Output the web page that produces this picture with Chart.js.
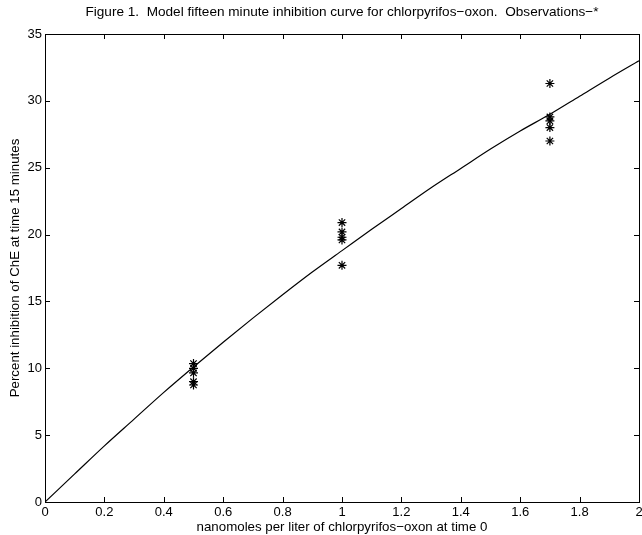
<!DOCTYPE html>
<html>
<head>
<meta charset="utf-8">
<title>Figure 1</title>
<script src="https://cdn.jsdelivr.net/npm/chart.js@4/dist/chart.umd.min.js"></script>
<style>
  html, body { margin: 0; padding: 0; background: #fff; }
  #wrap { width: 642px; height: 535px; }
</style>
</head>
<body>
<div id="wrap"><canvas id="fig" width="642" height="535"></canvas></div>
<script>
(function () {
  "use strict";

  // model curve
  var curveX = [0, 0.1, 0.2, 0.3, 0.4, 0.5, 0.6, 0.7, 0.8, 0.9, 1.0, 1.1, 1.2, 1.3, 1.4, 1.5, 1.6, 1.7, 1.8, 1.9, 2.0];
  var curveY = [0, 2.1, 4.2, 6.2, 8.2, 10.1, 11.95, 13.75, 15.5, 17.2, 18.8, 20.4, 21.95, 23.5, 24.95, 26.4, 27.75, 29.0, 30.35, 31.7, 33.0];

  // observations (*)
  var obsX = [0.5, 0.5, 0.5, 0.5, 0.5, 1, 1, 1, 1, 1, 1.7, 1.7, 1.7, 1.7, 1.7];
  var obsY = [10.35, 10.0, 9.65, 9.0, 8.75, 20.9, 20.2, 19.8, 19.6, 17.7, 31.3, 28.8, 28.5, 28.0, 27.0];

  var xTicks = [0, 0.2, 0.4, 0.6, 0.8, 1, 1.2, 1.4, 1.6, 1.8, 2];
  var yTicks = [0, 5, 10, 15, 20, 25, 30, 35];

  var titleText = "Figure 1.  Model fifteen minute inhibition curve for chlorpyrifos\u2212oxon.  Observations\u2212*";
  var xLabel = "nanomoles per liter of chlorpyrifos\u2212oxon at time 0";
  var yLabel = "Percent inhibition of ChE at time 15 minutes";

  function pairs(xs, ys) {
    return xs.map(function (x, i) { return { x: x, y: ys[i] }; });
  }

  var FONT = "'Liberation Sans', Arial, Helvetica, sans-serif";
  var SIZE = 13;

  // matlab style box with inward ticks on all four sides
  var boxTicks = {
    id: "boxTicks",
    afterDraw: function (chart) {
      var ctx = chart.ctx, a = chart.chartArea;
      var xs = chart.scales.x, ys = chart.scales.y, len = 5;
      ctx.save();
      ctx.strokeStyle = "#000";
      ctx.lineWidth = 1;
      ctx.beginPath();
      xTicks.forEach(function (v) {
        var p = Math.round(xs.getPixelForValue(v)) + 0.5;
        ctx.moveTo(p, a.bottom); ctx.lineTo(p, a.bottom - len);
        ctx.moveTo(p, a.top); ctx.lineTo(p, a.top + len);
      });
      yTicks.forEach(function (v) {
        var p = Math.round(ys.getPixelForValue(v)) + 0.5;
        ctx.moveTo(a.left, p); ctx.lineTo(a.left + len, p);
        ctx.moveTo(a.right, p); ctx.lineTo(a.right - len, p);
      });
      ctx.stroke();
      ctx.strokeRect(Math.round(a.left) + 0.5, Math.round(a.top) + 0.5,
        Math.round(a.right - a.left), Math.round(a.bottom - a.top));
      ctx.restore();
    }
  };

  new Chart(document.getElementById("fig").getContext("2d"), {
    type: "scatter",
    data: {
      datasets: [
        {
          label: "model",
          data: pairs(curveX, curveY),
          showLine: true,
          borderColor: "#000",
          borderWidth: 1.2,
          pointRadius: 0,
          cubicInterpolationMode: "monotone",
          order: 2
        },
        {
          label: "observations",
          data: pairs(obsX, obsY),
          showLine: false,
          pointStyle: "star",
          pointRadius: 4.5,
          borderColor: "#000",
          backgroundColor: "#000",
          pointBorderWidth: 1.2,
          order: 1
        }
      ]
    },
    options: {
      responsive: false,
      animation: false,
      // the last x label hangs past the canvas edge, as in the original
      layout: { autoPadding: false, padding: { top: 0, right: 3, left: 0, bottom: 0 } },
      plugins: {
        legend: { display: false },
        tooltip: { enabled: false },
        title: {
          display: true,
          fullSize: false,
          text: titleText,
          color: "#000",
          font: { family: FONT, size: 13.6, weight: "normal" },
          padding: { top: 4, bottom: 13.7 }
        }
      },
      scales: {
        x: {
          type: "linear",
          min: 0,
          max: 2,
          afterBuildTicks: function (s) { s.ticks = xTicks.map(function (v) { return { value: v }; }); },
          afterFit: function (s) { s.height = 33; s.paddingLeft = 0; s.paddingRight = 0; },
          grid: { display: false, drawTicks: false },
          border: { display: false },
          ticks: {
            color: "#000", padding: 3, maxRotation: 0, font: { family: FONT, size: SIZE },
            callback: function (v) { return String(v); }
          },
          title: { display: true, text: xLabel, color: "#000", padding: { top: 0, bottom: 0 }, font: { family: FONT, size: 13.3 } }
        },
        y: {
          type: "linear",
          min: 0,
          max: 35,
          afterBuildTicks: function (s) { s.ticks = yTicks.map(function (v) { return { value: v }; }); },
          afterFit: function (s) { s.width = 45; s.paddingTop = 0; s.paddingBottom = 0; },
          grid: { display: false, drawTicks: false },
          border: { display: false },
          ticks: {
            color: "#000", padding: 3, font: { family: FONT, size: SIZE },
            callback: function (v) { return String(v); }
          },
          title: { display: true, text: yLabel, color: "#000", padding: { top: 7, bottom: 0 }, font: { family: FONT, size: 13.3 } }
        }
      }
    },
    plugins: [boxTicks]
  });
})();
</script>
</body>
</html>
